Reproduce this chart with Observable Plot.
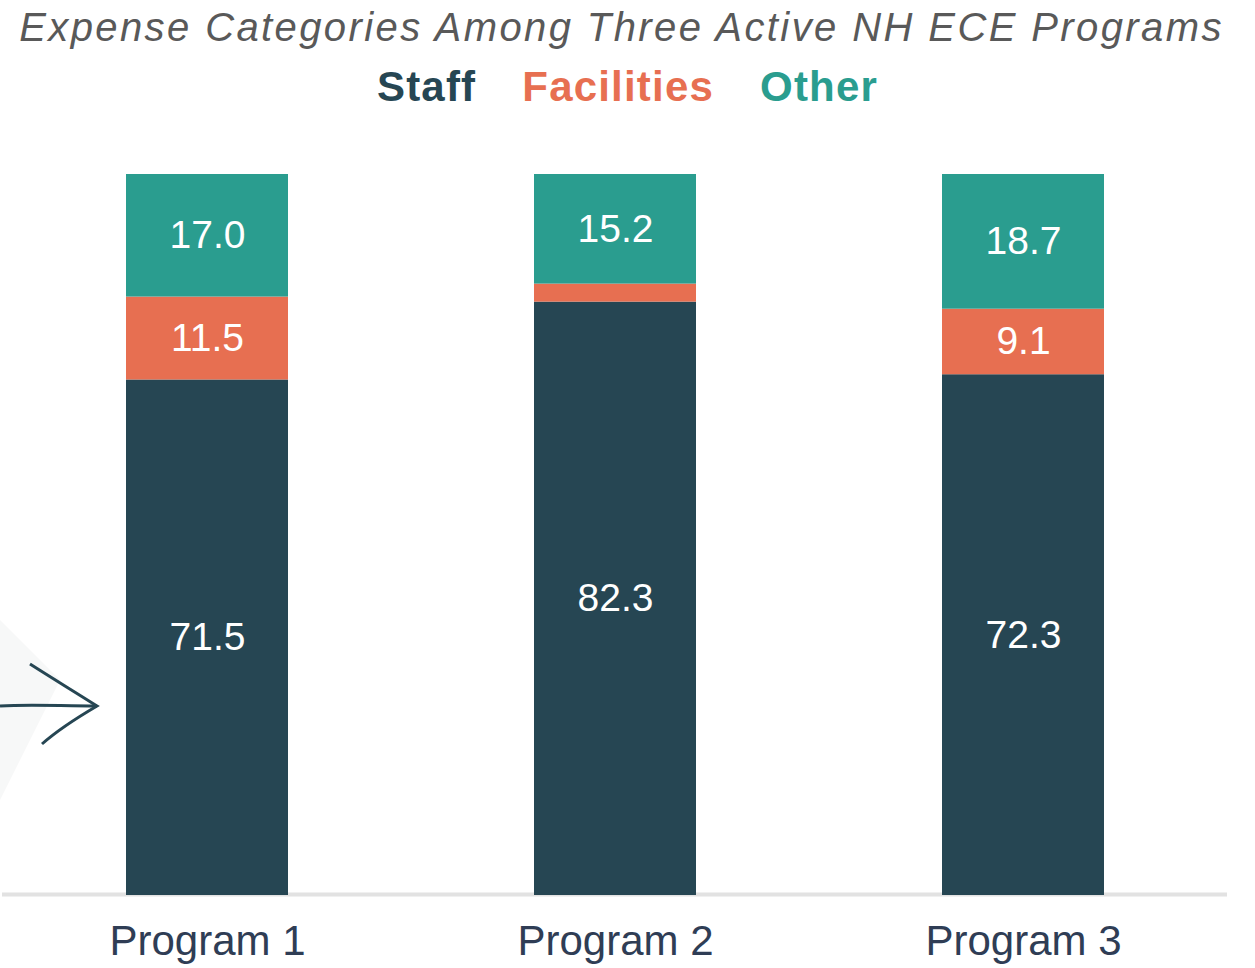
<!DOCTYPE html>
<html>
<head>
<meta charset="utf-8">
<script src="https://cdn.jsdelivr.net/npm/d3@7"></script>
<script src="https://cdn.jsdelivr.net/npm/@observablehq/plot@0.6"></script>
<style>
  html, body { margin: 0; padding: 0; background: #fff; }
  #wrap { position: relative; width: 1255px; height: 968px; overflow: hidden; }
  #title { position: relative; left: -6px; height: 54px; line-height: 54px; text-align: center; font-family: "Liberation Sans", Arial, sans-serif; font-style: italic; font-size: 40px; color: #595959; letter-spacing: 2.4px; white-space: nowrap; }
  #legend { height: 66px; line-height: 66px; text-align: center; font-family: "Liberation Sans", Arial, sans-serif; font-weight: bold; font-size: 42px; white-space: nowrap; }
  #legend span { display: inline-block; margin: 0 23px; letter-spacing: 1.2px; }
  #deco { position: absolute; left: 0; top: 600px; }
</style>
</head>
<body>
<div id="wrap">
  <div id="title">Expense Categories Among Three Active NH ECE Programs</div>
  <div id="legend"></div>
  <div id="chart"></div>
  <svg id="deco" width="110" height="220" viewBox="0 0 110 220">
    <path d="M0 20 L60 80 L0 200 Z" fill="#f7f8f8"/>
    <path d="M0 106 C30 104 60 106 97 106" stroke="#264653" stroke-width="3" fill="none"/>
    <path d="M30 64 C55 80 75 92 97 106 C80 116 60 128 42 144" stroke="#264653" stroke-width="3" fill="none"/>
  </svg>
</div>
<script>
const programs = ["Program 1", "Program 2", "Program 3"];
const categories = ["Staff", "Facilities", "Other"];
const colors = ["#264653", "#e76f51", "#2a9d8f"];
const staff = [71.5, 82.3, 72.3];
const facilities = [11.5, 2.5, 9.1];
const other = [17.0, 15.2, 18.7];
const showLabel = [[true, true, true], [true, false, true], [true, true, true]];

const series = [staff, facilities, other];
const rows = [];
programs.forEach((p, i) => {
  categories.forEach((c, j) => {
    rows.push({program: p, category: c, value: series[j][i], label: showLabel[i][j] ? series[j][i].toFixed(1) : ""});
  });
});

const legend = document.getElementById("legend");
categories.forEach((c, j) => {
  const s = document.createElement("span");
  s.textContent = c;
  s.style.color = colors[j];
  legend.appendChild(s);
});

const chart = Plot.plot({
  width: 1255,
  height: 848,
  marginTop: 54,
  marginBottom: 73,
  marginLeft: 2,
  marginRight: 28,
  x: {domain: programs, range: [126, 1104], paddingInner: 0.603, paddingOuter: 0, label: null},
  y: {axis: null, domain: [0, 1]},
  color: {domain: categories, range: colors},
  style: {fontFamily: "'Liberation Sans', Arial, sans-serif"},
  marks: [
    Plot.ruleY([0], {stroke: "#e2e2e2", strokeWidth: 4, dy: -1}),
    Plot.barY(rows, Plot.stackY({x: "program", y: "value", fill: "category", order: null, offset: "normalize"})),
    Plot.text(rows, Plot.stackY({x: "program", y: "value", z: "category", text: "label", order: null, offset: "normalize", fill: "white", fontSize: 39, fontWeight: 300})),
    Plot.axisX({tickSize: 0, tickPadding: 30, fontSize: 42, color: "#2f3d55", label: null})
  ]
});
document.getElementById("chart").appendChild(chart);
</script>
</body>
</html>
